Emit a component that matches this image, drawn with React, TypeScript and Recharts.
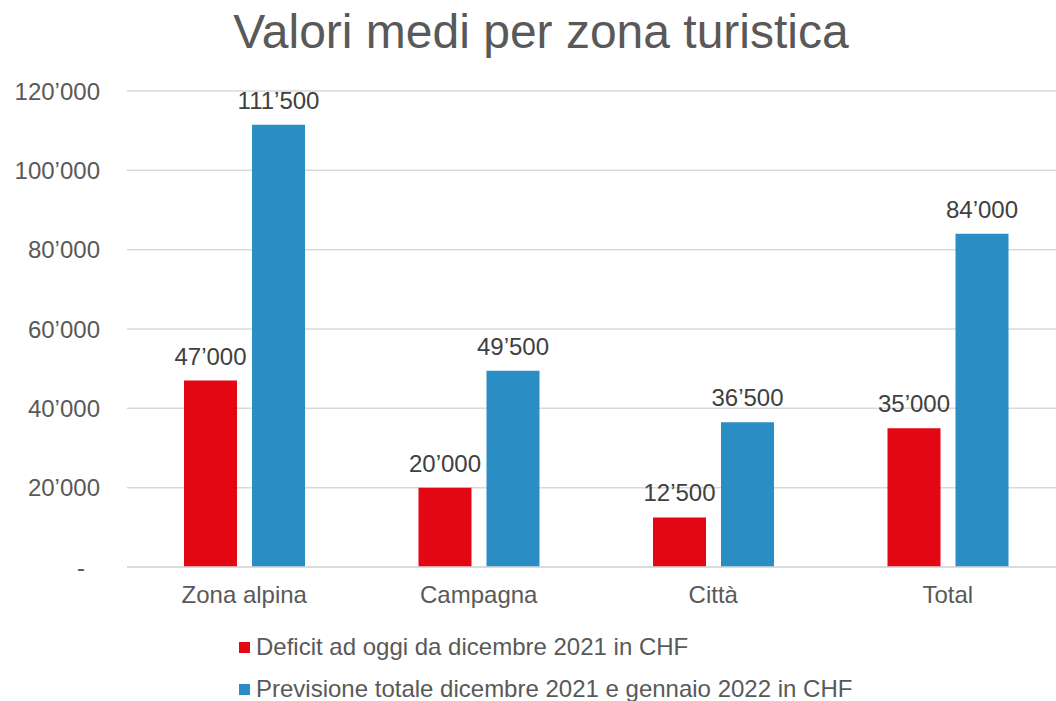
import React from 'react';
import { BarChart, Bar, XAxis, YAxis, CartesianGrid, LabelList, Legend } from 'recharts';

const title = 'Valori medi per zona turistica';
const categories = ['Zona alpina', 'Campagna', 'Città', 'Total'];
const deficitValues = [47000, 20000, 12500, 35000];
const previsioneValues = [111500, 49500, 36500, 84000];
const yTicks = [0, 20000, 40000, 60000, 80000, 100000, 120000];
const seriesNames = [
  'Deficit ad oggi da dicembre 2021 in CHF',
  'Previsione totale dicembre 2021 e gennaio 2022 in CHF',
];
const seriesColors = ['#E30613', '#2A8DC3'];

const data = categories.map((c, i) => ({
  name: c,
  deficit: deficitValues[i],
  previsione: previsioneValues[i],
}));

const FONT = '"Liberation Sans", Arial, sans-serif';

const fmt = (v: any) => {
  const n = Number(v);
  if (n === 0) return '-';
  return String(n).replace(/\B(?=(\d{3})+(?!\d))/g, '\u2019');
};

const YTick = (props: any) => {
  const { x, y, payload } = props;
  const isZero = payload.value === 0;
  return (
    <text
      x={isZero ? x - 15 : x}
      y={y}
      dy="0.355em"
      textAnchor="end"
      fill="#595959"
      fontSize={24}
      fontFamily={FONT}
    >
      {fmt(payload.value)}
    </text>
  );
};

const renderLegend = (props: any) => {
  const { payload } = props;
  return (
    <div style={{ fontFamily: FONT }}>
      {(payload || []).map((entry: any, i: number) => (
        <div key={i} style={{ display: 'flex', alignItems: 'center', height: 42, whiteSpace: 'nowrap' }}>
          <span style={{ display: 'inline-block', width: 11, height: 11, background: entry.color, marginRight: 6 }} />
          <span style={{ fontSize: 24, color: '#595959' }}>{entry.value}</span>
        </div>
      ))}
    </div>
  );
};

export default function App() {
  return (
    <div style={{ position: 'fixed', top: 0, left: 0, width: 1056, height: 701, overflow: 'hidden', background: '#fff' }}>
      <div
        style={{
          position: 'absolute',
          top: 8,
          left: 0,
          width: 1082,
          textAlign: 'center',
          fontFamily: FONT,
          fontSize: 48,
          lineHeight: '48px',
          color: '#595959',
          whiteSpace: 'nowrap',
        }}
      >
        {title}
      </div>
      <BarChart
        width={1065}
        height={701}
        data={data}
        margin={{ top: 91, right: 0, left: 0, bottom: 94 }}
        barCategoryGap={57}
        barGap={15}
      >
        <CartesianGrid vertical={false} stroke="#D9D9D9" strokeWidth={1.5} />
        <XAxis
          dataKey="name"
          height={40}
          axisLine={{ stroke: '#D9D9D9', strokeWidth: 1.5 }}
          tickLine={false}
          tickSize={0}
          tickMargin={19}
          tick={{ fill: '#595959', fontSize: 24, fontFamily: FONT }}
        />
        <YAxis
          width={127}
          domain={[0, 120000]}
          ticks={yTicks}
          axisLine={false}
          tickLine={false}
          tickSize={0}
          tickMargin={27}
          tick={<YTick />}
          interval={0}
        />
        <Legend
          layout="horizontal"
          verticalAlign="middle"
          align="center"
          wrapperStyle={{ top: 626, left: 239, width: 'auto' }}
          content={renderLegend}
        />
        <Bar dataKey="deficit" name={seriesNames[0]} fill={seriesColors[0]} isAnimationActive={false}>
          <LabelList
            dataKey="deficit"
            position="top"
            offset={16}
            formatter={fmt}
            fill="#404040"
            fontSize={24}
            fontFamily={FONT}
          />
        </Bar>
        <Bar dataKey="previsione" name={seriesNames[1]} fill={seriesColors[1]} isAnimationActive={false}>
          <LabelList
            dataKey="previsione"
            position="top"
            offset={16}
            formatter={fmt}
            fill="#404040"
            fontSize={24}
            fontFamily={FONT}
          />
        </Bar>
      </BarChart>
    </div>
  );
}
